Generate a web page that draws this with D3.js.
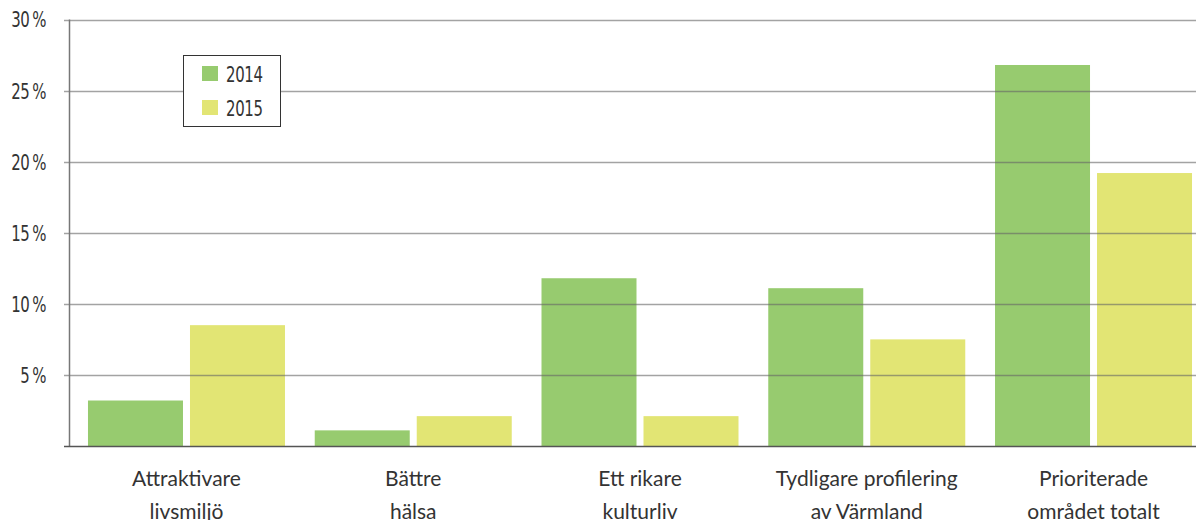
<!DOCTYPE html>
<html><head><meta charset="utf-8">
<script src="https://cdn.jsdelivr.net/npm/d3@7"></script>
<style>
body{margin:0;background:#fff;}
</style></head>
<body><svg id="c" width="1196" height="520"></svg>
<script>
const categories = [["Attraktivare","livsmiljö"],["Bättre","hälsa"],["Ett rikare","kulturliv"],["Tydligare profilering","av Värmland"],["Prioriterade","området totalt"]];
const series = ["2014","2015"];
const values2014 = [3.2, 1.1, 11.8, 11.1, 26.8];
const values2015 = [8.5, 2.1, 2.1, 7.5, 19.2];
const yTicks = [5,10,15,20,25,30];
const colors = ["#97cb6f","#e2e574"];

const condFont = "'DejaVu Sans', sans-serif";
const svg = d3.select("#c");
const y = d3.scaleLinear().domain([0,30]).range([446,19.5]);
const x = d3.scaleBand().domain(d3.range(categories.length)).range([73.1,1206.9]).paddingInner(0).paddingOuter(0);
const xs = d3.scaleBand().domain(series).range([0,197]).paddingInner(7/102);
const groupW = 197;

const data = categories.map((c,i)=>({i, vals:[values2014[i], values2015[i]]}));

// bars
const g = svg.append("g");
data.forEach(d=>{
  const gx = x(d.i) + x.bandwidth()/2 - groupW/2;
  d.vals.forEach((v,k)=>{
    g.append("rect").attr("x", gx + xs(series[k])).attr("width", xs.bandwidth())
      .attr("y", y(v)).attr("height", y(0)-y(v)).attr("fill", colors[k]);
  });
});

// gridlines on top
svg.append("g").selectAll("line").data(yTicks).join("line")
  .attr("x1",64).attr("x2",1196).attr("y1",d=>Math.round(y(d))+0.5).attr("y2",d=>Math.round(y(d))+0.5)
  .attr("stroke","#666").attr("stroke-opacity",0.6).attr("stroke-width",1.5);

// y axis line
svg.append("line").attr("x1",69.5).attr("x2",69.5).attr("y1",y(30)).attr("y2",y(0)).attr("stroke","#777").attr("stroke-width",1.5);
// baseline
svg.append("line").attr("x1",64).attr("x2",1196).attr("y1",446.5).attr("y2",446.5).attr("stroke","#555").attr("stroke-width",1.5);

// y labels (condensed via horizontal scaling)
svg.append("g").selectAll("text").data(yTicks).join("text")
  .attr("transform",d=>`translate(46,${y(d)}) scale(0.68,1)`).attr("dy","0.36em").attr("text-anchor","end")
  .attr("font-family",condFont).attr("font-size",22).attr("letter-spacing",-0.5).attr("fill","#333").text(d=>d+"\u2009%");

// x labels
const xl = svg.append("g").selectAll("text").data(data).join("text")
  .attr("text-anchor","middle").attr("font-family","Lato, 'Open Sans', sans-serif").attr("font-size",21).attr("fill","#333")
  .attr("transform", d=>`translate(${x(d.i)+x.bandwidth()/2},486)`);
xl.selectAll("tspan").data(d=>categories[d.i]).join("tspan").attr("x",0).attr("dy",(t,j)=>j===0?0:33).text(t=>t);

// legend
const lg = svg.append("g");
lg.append("rect").attr("x",183.5).attr("y",55.5).attr("width",97).attr("height",71).attr("fill","#fff").attr("stroke","#333").attr("stroke-width",1);
series.forEach((s,k)=>{
  lg.append("rect").attr("x",202).attr("y",66+k*34).attr("width",16).attr("height",15).attr("fill",colors[k]);
  lg.append("text").attr("transform",`translate(226,${74+k*34}) scale(0.68,1)`).attr("dy","0.36em")
    .attr("font-family",condFont).attr("font-size",22).attr("letter-spacing",-0.5).attr("fill","#333").text(s);
});
</script></body></html>
